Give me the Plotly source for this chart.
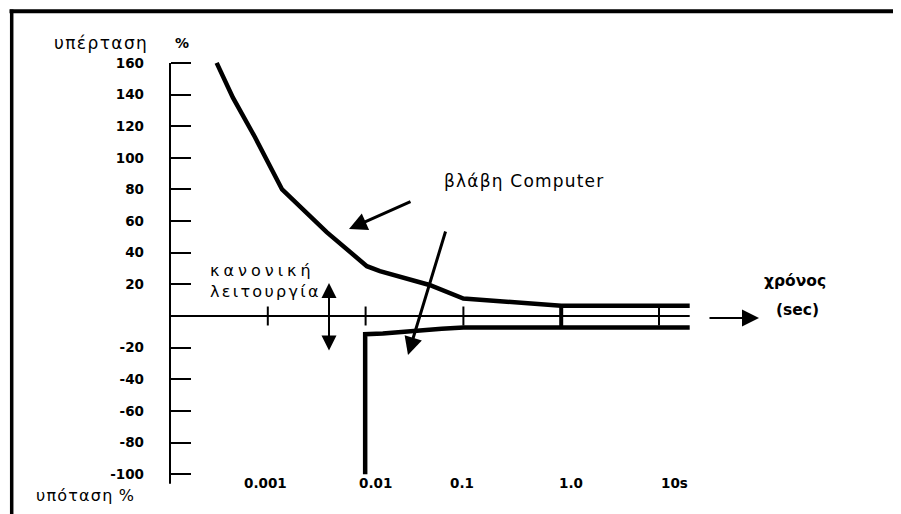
import math
import plotly.graph_objects as go

# ---------------- data ----------------
over_t = [0.0003, 0.00044, 0.00074, 0.0011, 0.0014, 0.004, 0.0103, 0.014, 0.045, 0.1, 1.0, 20.6]
over_v = [160, 138, 113, 92, 80, 53, 31.5, 28.4, 19.6, 11, 6.5, 6.5]

under_t = [0.0099, 0.0099, 0.015, 0.03, 0.06, 0.1, 20.6]
under_v = [-100, -11.5, -11, -9.3, -8, -7.3, -7.3]

bar_1s_t = [1.0, 1.0]
bar_1s_v = [6.5, -7.3]

y_ticks = [160, 140, 120, 100, 80, 60, 40, 20, -20, -40, -60, -80, -100]
x_ticks = [0.001, 0.01, 0.1, 1.0, 10.0]
x_tick_labels = ["0.001", "0.01", "0.1", "1.0", "10s"]

axis_t = [0.0001, 20.6]
axis_v = [0, 0]
yaxis_v = [160, -106]

# ---------------- layout helpers ----------------
# the page body adds an 8px offset; figure is sized to fill the 901x514 window
OFF = 8
W, H = 901 - OFF, 514 - OFF
ML, MT = 150 - OFF, 15 - OFF
PW, PH = 740, 499
MR, MB = W - ML - PW, H - MT - PH
FONT = "DejaVu Sans"


def fx(px):
    return (px - OFF - ML) / PW


def fy(py):
    return (MT + PH - (py - OFF)) / PH


def sp(s, px):
    return f'<span style="letter-spacing:{px}px">{s}</span>'


fig = go.Figure()
blk = "black"
fig.add_trace(go.Scatter(x=over_t, y=over_v, mode="lines", line=dict(color=blk, width=4.5)))
fig.add_trace(go.Scatter(x=under_t, y=under_v, mode="lines", line=dict(color=blk, width=4.5)))
fig.add_trace(go.Scatter(x=bar_1s_t, y=bar_1s_v, mode="lines", line=dict(color=blk, width=4)))
fig.add_trace(go.Scatter(x=axis_t, y=axis_v, mode="lines", line=dict(color=blk, width=2)))
fig.add_trace(go.Scatter(x=[axis_t[0], axis_t[0]], y=yaxis_v, mode="lines", line=dict(color=blk, width=2)))
tx, ty = [], []
for t in x_ticks:
    tx += [t, t, None]
    ty += [-6, 6, None]
fig.add_trace(go.Scatter(x=tx, y=ty, mode="lines", line=dict(color=blk, width=2)))

ann = []
# x tick labels
xshift = [-2.5, 9.5, -1, 10, 15]
for t, lab, s in zip(x_ticks, x_tick_labels, xshift):
    ann.append(dict(x=math.log10(t), y=-105.6, xref="x", yref="y", text=lab, showarrow=False,
                    xanchor="center", yanchor="middle", xshift=s,
                    font=dict(family=FONT, size=13.5, color=blk, weight="bold")))

texts = [
    (sp("υπέρταση", 1.4), 100.5, 43, "center", 17, "normal"),
    ("%", 181.5, 43, "center", 14, "bold"),
    (sp("υπόταση", 1.2) + " %", 84.5, 495, "center", 16, "normal"),
    (sp("κανονική", 4.0) + "<br>" + sp("λειτουργία", 2.3), 208, 281, "left", 16, "normal"),
    (sp("βλάβη Computer", 1.2), 442, 181, "left", 17, "normal"),
    ("χρόνος", 762, 281, "left", 15.5, "bold"),
    ("(sec)", 774, 310, "left", 15.5, "bold"),
]
for txt, px, py, xa, size, wt in texts:
    ann.append(dict(x=fx(px), y=fy(py), xref="paper", yref="paper", text=txt, showarrow=False,
                    xanchor=xa, yanchor="middle", align="left",
                    font=dict(family=FONT, size=size, color=blk, weight=wt)))

arrows = [
    # tip px, tail px, width, size, side
    ((349, 229), (412, 201), 3, 1.2, "end"),
    ((408, 355), (446, 230), 3, 1.2, "end"),
    ((329, 283), (329, 352), 2, 1.5, "end+start"),
    ((759, 318), (708, 318), 2, 1.7, "end"),
]
for (tx_, ty_), (ax_, ay_), w, s, side in arrows:
    ann.append(dict(x=fx(tx_), y=fy(ty_), xref="paper", yref="paper", text="",
                    showarrow=True, ax=ax_ - tx_, ay=ay_ - ty_, axref="pixel", ayref="pixel",
                    arrowhead=2, startarrowhead=2, arrowsize=s, startarrowsize=s,
                    arrowwidth=w, arrowcolor=blk, arrowside=side, standoff=0, startstandoff=0))

shapes = [
    dict(type="line", xref="paper", yref="paper", x0=fx(9.5), x1=fx(910), y0=fy(11.3), y1=fy(11.3),
         line=dict(color=blk, width=4)),
    dict(type="line", xref="paper", yref="paper", x0=fx(11.7), x1=fx(11.7), y0=fy(9.5), y1=fy(530),
         line=dict(color=blk, width=3.5)),
]

fig.update_layout(
    width=W, height=H, autosize=False,
    margin=dict(l=ML, r=MR, t=MT, b=MB, pad=0),
    paper_bgcolor="white", plot_bgcolor="white",
    showlegend=False,
    xaxis=dict(type="log", range=[-4 - 20 / 97.8, -4 + 720 / 97.8], visible=False, fixedrange=True),
    yaxis=dict(range=[-198 / 1.5818, 301 / 1.5818], anchor="free", position=20 / PW,
               ticks="inside", ticklen=20, tickwidth=2, tickcolor=blk,
               tickvals=y_ticks, ticktext=[str(v) for v in y_ticks],
               tickfont=dict(family=FONT, size=13.5, color=blk, weight="bold"),
               ticklabelstandoff=26,
               showgrid=False, zeroline=False, showline=False, fixedrange=True),
    annotations=ann,
    shapes=shapes,
)

fig.write_html("out.html")
